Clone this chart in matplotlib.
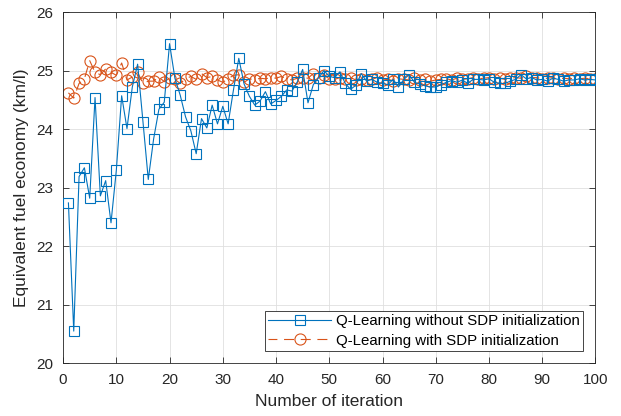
import numpy as np
import matplotlib.pyplot as plt

plt.rcParams['font.family'] = ['Liberation Sans', 'DejaVu Sans']

# 迭代次数
iterations = np.arange(1, 101)

# Q-Learning without SDP initialization (km/l)
fuel_no_sdp = [
    22.74, 20.55, 23.19, 23.34, 22.82, 24.54, 22.86, 23.12, 22.40, 23.30,
    24.57, 24.01, 24.72, 25.11, 24.13, 23.14, 23.83, 24.34, 24.46, 25.46,
    24.87, 24.58, 24.21, 23.97, 23.58, 24.18, 24.02, 24.41, 24.09, 24.39,
    24.09, 24.67, 25.21, 24.77, 24.56, 24.41, 24.48, 24.64, 24.43, 24.49,
    24.56, 24.67, 24.65, 24.81, 25.02, 24.45, 24.76, 24.88, 25.00, 24.90,
    24.88, 24.98, 24.78, 24.68, 24.75, 24.95, 24.82, 24.85, 24.80, 24.78,
    24.76, 24.85, 24.72, 24.85, 24.93, 24.80, 24.77, 24.74, 24.72, 24.72,
    24.76, 24.80, 24.83, 24.80, 24.84, 24.78, 24.85, 24.85, 24.84, 24.86,
    24.80, 24.78, 24.78, 24.82, 24.85, 24.93, 24.86, 24.88, 24.84, 24.85,
    24.82, 24.87, 24.85, 24.82, 24.84, 24.84, 24.86, 24.84, 24.85, 24.84,
]

# Q-Learning with SDP initialization (km/l)
fuel_sdp = [
    24.62, 24.53, 24.78, 24.86, 25.17, 24.97, 24.93, 25.03, 24.97, 24.92,
    25.13, 24.84, 24.89, 24.97, 24.78, 24.82, 24.82, 24.89, 24.81, 24.87,
    24.85, 24.78, 24.86, 24.90, 24.85, 24.95, 24.88, 24.90, 24.84, 24.80,
    24.86, 24.92, 24.93, 24.80, 24.86, 24.84, 24.87, 24.86, 24.88, 24.87,
    24.90, 24.86, 24.84, 24.87, 24.88, 24.87, 24.95, 24.88, 24.92, 24.86,
    24.85, 24.88, 24.85, 24.88, 24.84, 24.86, 24.84, 24.85, 24.88, 24.84,
    24.85, 24.83, 24.86, 24.85, 24.84, 24.87, 24.84, 24.85, 24.82, 24.84,
    24.85, 24.86, 24.84, 24.87, 24.85, 24.86, 24.88, 24.86, 24.87, 24.88,
    24.86, 24.87, 24.85, 24.87, 24.88, 24.87, 24.90, 24.88, 24.88, 24.86,
    24.87, 24.88, 24.85, 24.87, 24.86, 24.87, 24.86, 24.87, 24.86, 24.86,
]

BLUE = '#0072BD'
ORANGE = '#D95319'

fig = plt.figure(figsize=(6.21, 4.16), dpi=100)
ax = fig.add_axes([0.1016, 0.1267, 0.8573, 0.8443])

ax.plot(iterations, fuel_no_sdp, '-s', color=BLUE, linewidth=0.8,
        markersize=6.5, markerfacecolor='none', markeredgewidth=0.8,
        label='Q-Learning without SDP initialization', zorder=3)
ax.plot(iterations, fuel_sdp, 'o', linestyle=(1, (9, 6)), color=ORANGE,
        linewidth=0.8, markersize=8, markerfacecolor='none',
        markeredgewidth=0.8,
        label='Q-Learning with SDP initialization', zorder=2)

ax.set_xlim(0, 100)
ax.set_ylim(20, 26)
ax.set_xticks(np.arange(0, 101, 10))
ax.set_yticks(np.arange(20, 27, 1))

ax.grid(True, color='#dfdfdf', linewidth=0.6)
ax.set_axisbelow(True)
ax.tick_params(direction='in', top=True, right=True, labelsize=11,
               length=4, width=0.6, colors='#262626', pad=7)
for s in ax.spines.values():
    s.set_linewidth(0.6)
    s.set_color('#262626')

ax.set_xlabel('Number of iteration', fontsize=12.5, color='#262626', labelpad=5)
ax.set_ylabel('Equivalent fuel economy (km/l)', fontsize=12.5, color='#262626', labelpad=5)

leg = ax.legend(loc='lower right', fontsize=10.8, fancybox=False, framealpha=1,
                edgecolor='#262626', handlelength=4.2, borderpad=0.25,
                labelspacing=0.35, handletextpad=0.3, borderaxespad=0.8)
leg.get_frame().set_linewidth(0.6)

fig.savefig('out.png', dpi=100)
